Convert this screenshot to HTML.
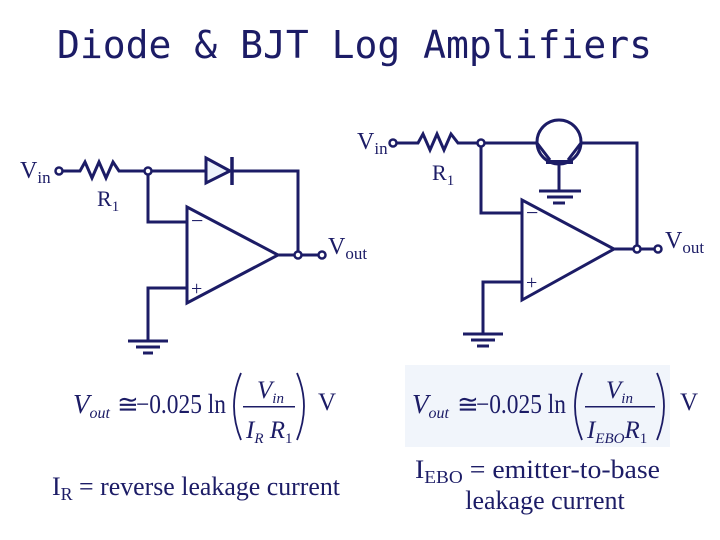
<!DOCTYPE html>
<html><head><style>
html,body{margin:0;padding:0;background:#fff;width:720px;height:540px;overflow:hidden}
svg{display:block}
</style></head><body>
<svg width="720" height="540" viewBox="0 0 720 540" xmlns="http://www.w3.org/2000/svg">
<text x="57" y="58" font-family="DejaVu Sans Mono, Liberation Mono, monospace" font-size="38" textLength="595" lengthAdjust="spacingAndGlyphs" fill="#1c1c66">Diode &amp; BJT Log Amplifiers</text>
<rect x="405" y="365" width="265" height="82" fill="#f1f5fb"/>
<g stroke="#1c1c66" stroke-width="3" fill="none" stroke-linejoin="miter">
<path d="M63 171 H80 L85 162 L92 178 L99 162 L106 178 L113 162 L119 171 H145"/>
<path d="M151 171 H206"/>
<path d="M206 158 L230 171 L206 183 Z" fill="#eef4fb"/>
<path d="M232 157 V185" stroke-width="3.5"/>
<path d="M232 171 H298 V252"/>
<path d="M148 174 V222 H187"/>
<path d="M187 207 V303 L278 255 Z"/>
<path d="M278 255 H295 M301 255 H318"/>
<path d="M187 288 H148 V340"/>
<path d="M128 341 H168 M136 347 H160 M143 353 H153"/>
<circle cx="59" cy="171" r="3.5" stroke-width="2.5"/>
<circle cx="148" cy="171" r="3.5" stroke-width="2.5"/>
<circle cx="298" cy="255" r="3.5" stroke-width="2.5"/>
<circle cx="322" cy="255" r="3.5" stroke-width="2.5"/>
<path d="M397 143 H418 L423 134 L430 150 L437 134 L444 150 L451 134 L458 143 H478"/>
<path d="M484 143 H537"/>
<circle cx="559" cy="142" r="22"/>
<path d="M537 143 L550 160 M581 143 L568 160"/>
<path d="M546 162 H573" stroke-width="4"/>
<path d="M581 143 H637 V246"/>
<path d="M559 162 V190 M539 191 H581 M547 197 H573 M553 203 H565"/>
<path d="M481 146 V213 H522"/>
<path d="M522 200 V300 L614 249 Z"/>
<path d="M614 249 H634 M640 249 H655"/>
<path d="M522 282 H483 V333"/>
<path d="M463 334 H503 M471 340 H495 M477 346 H489"/>
<circle cx="393" cy="143" r="3.5" stroke-width="2.5"/>
<circle cx="481" cy="143" r="3.5" stroke-width="2.5"/>
<circle cx="637" cy="249" r="3.5" stroke-width="2.5"/>
<circle cx="658" cy="249" r="3.5" stroke-width="2.5"/>
<!-- parens -->
<g stroke-width="1.8">
<path d="M241 373 Q227 406 241 440"/>
<path d="M297 373 Q311 406 297 440"/>
<path d="M582 373 Q568 406 582 440"/>
<path d="M657 373 Q671 406 657 440"/>
</g>
</g>
<g fill="#1c1c66" font-family="Liberation Serif, serif">
<text x="20" y="178" font-size="24">V<tspan font-size="17" dy="5">in</tspan></text>
<text x="97" y="206" font-size="22">R<tspan font-size="15" dy="5">1</tspan></text>
<text x="328" y="254" font-size="24">V<tspan font-size="17" dy="5">out</tspan></text>
<text x="191" y="228" font-size="22">−</text>
<text x="191" y="295" font-size="20">+</text>
<text x="357" y="149" font-size="24">V<tspan font-size="17" dy="5">in</tspan></text>
<text x="432" y="180" font-size="22">R<tspan font-size="15" dy="5">1</tspan></text>
<text x="665" y="248" font-size="24">V<tspan font-size="17" dy="5">out</tspan></text>
<text x="526" y="220" font-size="22">−</text>
<text x="526" y="289" font-size="20">+</text>

<text x="73" y="413" font-size="27" font-style="italic">V<tspan font-size="16" dy="5">out</tspan></text>
<text x="117" y="413" font-size="26">≅</text>
<text x="136" y="413" font-size="27" textLength="90" lengthAdjust="spacingAndGlyphs">−0.025 ln</text>
<text x="257" y="398" font-size="25" font-style="italic">V<tspan font-size="15" dy="5">in</tspan></text>
<rect x="243" y="406" width="52" height="1.5"/>
<text x="246" y="438" font-size="25" font-style="italic">I<tspan font-size="15" dy="5">R</tspan><tspan dy="-5"> R</tspan><tspan font-size="15" dy="5" font-style="normal">1</tspan></text>
<text x="318" y="410" font-size="25">V</text>
<text x="52" y="495" font-size="26" textLength="288" lengthAdjust="spacingAndGlyphs">I<tspan font-size="18" dy="5">R</tspan><tspan dy="-5"> = reverse leakage current</tspan></text>

<text x="412" y="413" font-size="27" font-style="italic">V<tspan font-size="16" dy="5">out</tspan></text>
<text x="457" y="413" font-size="26">≅</text>
<text x="476" y="413" font-size="27" textLength="90" lengthAdjust="spacingAndGlyphs">−0.025 ln</text>
<text x="606" y="398" font-size="25" font-style="italic">V<tspan font-size="15" dy="5">in</tspan></text>
<rect x="585" y="406" width="70" height="1.5"/>
<text x="587" y="438" font-size="25" font-style="italic">I<tspan font-size="15" dy="5">EBO</tspan><tspan dy="-5">R</tspan><tspan font-size="15" dy="5" font-style="normal">1</tspan></text>
<text x="680" y="410" font-size="25">V</text>
<text x="415" y="478" font-size="26" textLength="245" lengthAdjust="spacingAndGlyphs">I<tspan font-size="18" dy="5">EBO</tspan><tspan dy="-5"> = emitter-to-base</tspan></text>
<text x="545" y="509" font-size="26" text-anchor="middle">leakage current</text>
</g>
</svg>
</body></html>
